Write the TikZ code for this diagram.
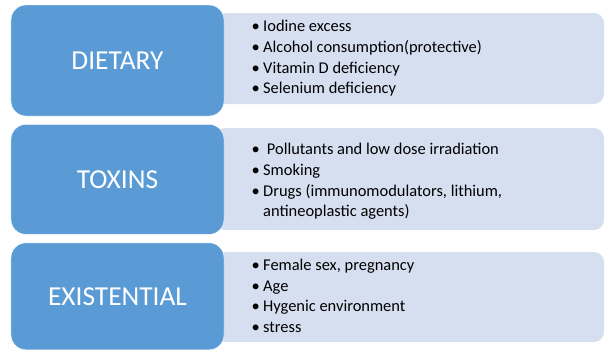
\documentclass[tikz,border=0pt]{standalone}
\usepackage{fontspec}
\setmainfont{Carlito}
\usetikzlibrary{positioning}

\definecolor{catblue}{RGB}{91,155,213}
\definecolor{itemblue}{RGB}{214,223,240}
\newcommand{\itm}{\makebox[11.5bp][l]{\textbullet}}

\begin{document}
\begin{tikzpicture}[x=1bp,y=1bp,node distance=8bp]
\tikzstyle{cat}=[rectangle,rounded corners=15bp,fill=catblue,draw=white,thin,minimum width=213bp,text=white,font=\fontsize{27.5}{32}\selectfont]
\tikzstyle{items}=[rectangle,rounded corners=10bp,fill=itemblue,minimum width=389bp,inner sep=0pt]
\tikzstyle{list}=[align=left,anchor=west,text=black,inner sep=0pt,font=\fontsize{16.5}{20.7}\selectfont]

\useasboundingbox (0,0) rectangle (605,-349);

% light boxes first, the blue ones hide their left ends
\node[items,minimum height=91bp]  (dietB)  at (409.5,-58.5) {};
\node[items,minimum height=102bp] (toxB)   at (409.5,-179)  {};
\node[items,minimum height=90bp]  (existB) at (409.5,-297)  {};

\node[cat,minimum height=111bp] (diet) at (117.5,-60.5) {DIETARY};
\node[cat,minimum height=110bp] (tox)   [below=of diet] {TOXINS};
\node[cat,minimum height=107bp] (exist) [below=of tox]  {EXISTENTIAL};

\node[list] (dietL) at (251.5,-58.5) {\itm Iodine excess\\ \itm Alcohol consumption(protective)\\ \itm Vitamin D deficiency\\ \itm Selenium deficiency};
\node[list] (toxL) at (251.5,-181.5) {\itm\ Pollutants and low dose irradiation\\ \itm Smoking\\ \itm Drugs (immunomodulators, lithium,\\ \hspace*{11.5bp}antineoplastic agents)};
\node[list] (existL) at (251.5,-296) {\itm Female sex, pregnancy\\ \itm Age\\ \itm Hygenic environment\\ \itm stress};
\end{tikzpicture}
\end{document}
